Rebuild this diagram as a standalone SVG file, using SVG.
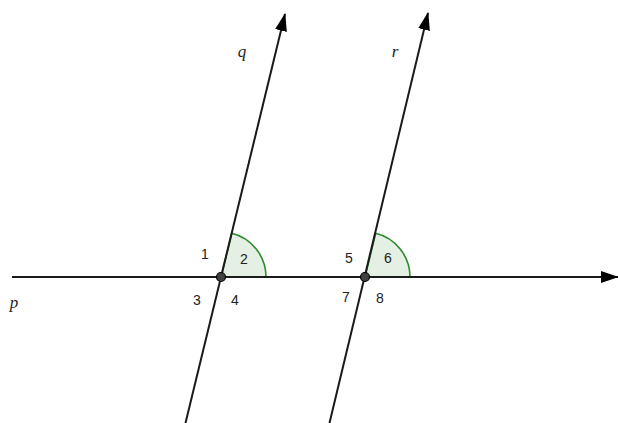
<svg xmlns="http://www.w3.org/2000/svg" width="618" height="423" viewBox="0 0 618 423">
<style>
.ln{stroke:#1a1a1a;stroke-width:2;fill:none}
.ang{fill:#e3f0e3;stroke:#2e8b2e;stroke-width:1.6}
.pt{fill:#404040;stroke:#000;stroke-width:1.2}
.num{font-family:"Liberation Sans",Arial,sans-serif;font-size:14px;fill:#222;text-anchor:middle}
.lab{font-family:"Liberation Serif","Times New Roman",serif;font-style:italic;font-size:17px;fill:#222;text-anchor:middle}
</style>
<defs>
<marker id="ah" viewBox="0 0 18 12" refX="17" refY="6" markerWidth="18" markerHeight="12" markerUnits="userSpaceOnUse" orient="auto">
<path d="M0,0 L18,6 L0,12 z" fill="#000"/>
</marker>
</defs>
<rect width="618" height="423" fill="#fff"/>
<g id="angles">
<path class="ang" d="M221,277 L266,277 A45,45 0 0 0 231.7,233.3 Z"/>
<path class="ang" d="M365,277 L410,277 A45,45 0 0 0 375.7,233.3 Z"/>
</g>
<g id="connectors">
<line class="ln" x1="12" y1="277" x2="618" y2="277" marker-end="url(#ah)"/>
<line class="ln" x1="185.5" y1="423" x2="285" y2="14" marker-end="url(#ah)"/>
<line class="ln" x1="329.5" y1="423" x2="428" y2="13" marker-end="url(#ah)"/>
</g>
<g id="point-A"><circle class="pt" cx="221" cy="277" r="4.5"/></g>
<g id="point-B"><circle class="pt" cx="365" cy="277" r="4.5"/></g>
<g id="labels">
<text class="lab" x="242" y="57">q</text>
<text class="lab" x="395" y="57">r</text>
<text class="lab" x="14" y="308">p</text>
<text class="num" x="205" y="259">1</text>
<text class="num" x="244" y="264">2</text>
<text class="num" x="197" y="305">3</text>
<text class="num" x="235" y="305">4</text>
<text class="num" x="349" y="263">5</text>
<text class="num" x="388" y="263">6</text>
<text class="num" x="346" y="302">7</text>
<text class="num" x="380" y="303">8</text>
</g>
</svg>
